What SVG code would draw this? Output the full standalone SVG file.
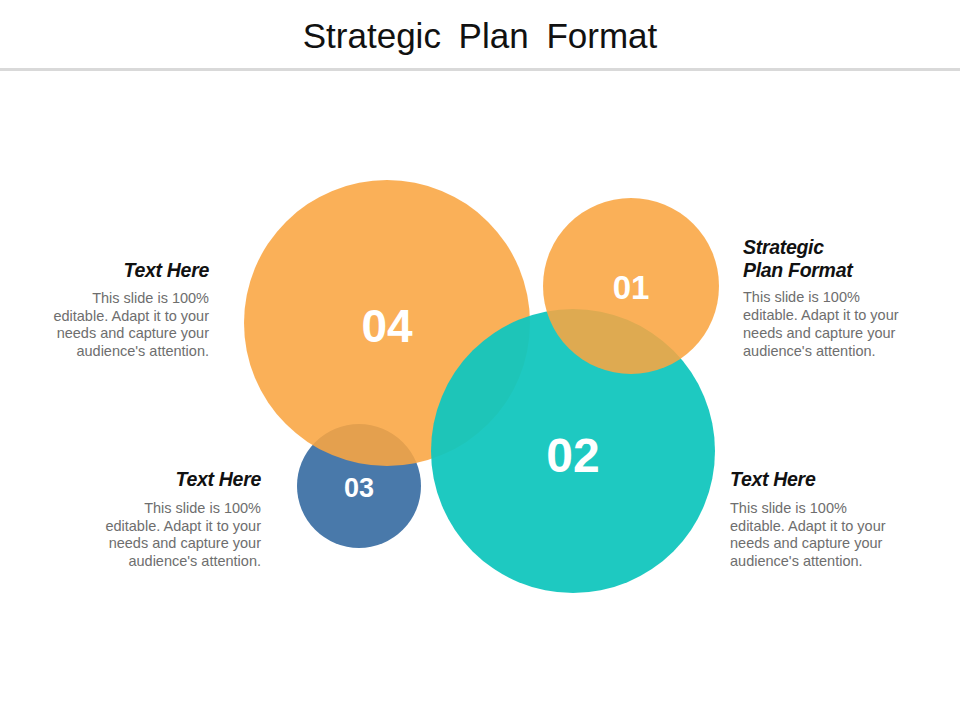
<svg xmlns="http://www.w3.org/2000/svg" width="960" height="720" viewBox="0 0 960 720">
<style>
.title{font-family:"Liberation Sans",Arial,sans-serif;font-size:35px;fill:#111;word-spacing:8px}
.num{font-family:"Liberation Sans",Arial,sans-serif;font-weight:bold;fill:#fff;text-anchor:middle}
.head{font-family:"Liberation Sans",Arial,sans-serif;font-weight:bold;font-style:italic;font-size:19.5px;fill:#111;letter-spacing:-0.3px}
.body{font-family:"Liberation Sans",Arial,sans-serif;font-size:14.5px;fill:#6e6e6e}
.r{text-anchor:end}
</style>
<rect width="960" height="720" fill="#fff"/>
<text class="title" x="480" y="48" text-anchor="middle">Strategic Plan Format</text>
<rect x="0" y="68" width="960" height="3" fill="#d9d9d9"/>
<g id="node-03">
<circle cx="359" cy="486" r="62" fill="#3a6ea3" fill-opacity="0.92"/>
<text class="num" x="359" y="497" font-size="27">03</text>
</g>
<g id="node-04">
<circle cx="387" cy="323" r="143" fill="#f9a541" fill-opacity="0.88"/>
<text class="num" x="387" y="342" font-size="46">04</text>
</g>
<g id="node-02">
<circle cx="573" cy="451" r="142" fill="#12c6be" fill-opacity="0.95"/>
<text class="num" x="573" y="472" font-size="48">02</text>
</g>
<g id="node-01">
<circle cx="631" cy="286" r="88" fill="#f9a541" fill-opacity="0.88"/>
<text class="num" x="631" y="299" font-size="33">01</text>
</g>
<g id="text-04">
<text class="head r" x="209" y="277">Text Here</text>
<text class="body r" x="209" y="303">This slide is 100%</text>
<text class="body r" x="209" y="321">editable. Adapt it to your</text>
<text class="body r" x="209" y="338">needs and capture your</text>
<text class="body r" x="209" y="356">audience's attention.</text>
</g>
<g id="text-03">
<text class="head r" x="261" y="486">Text Here</text>
<text class="body r" x="261" y="513">This slide is 100%</text>
<text class="body r" x="261" y="531">editable. Adapt it to your</text>
<text class="body r" x="261" y="548">needs and capture your</text>
<text class="body r" x="261" y="566">audience's attention.</text>
</g>
<g id="text-01">
<text class="head" x="743" y="254">Strategic</text>
<text class="head" x="743" y="277">Plan Format</text>
<text class="body" x="743" y="302">This slide is 100%</text>
<text class="body" x="743" y="320">editable. Adapt it to your</text>
<text class="body" x="743" y="338">needs and capture your</text>
<text class="body" x="743" y="356">audience's attention.</text>
</g>
<g id="text-02">
<text class="head" x="730" y="486">Text Here</text>
<text class="body" x="730" y="513">This slide is 100%</text>
<text class="body" x="730" y="531">editable. Adapt it to your</text>
<text class="body" x="730" y="548">needs and capture your</text>
<text class="body" x="730" y="566">audience's attention.</text>
</g>
<g id="connectors"/>
</svg>
